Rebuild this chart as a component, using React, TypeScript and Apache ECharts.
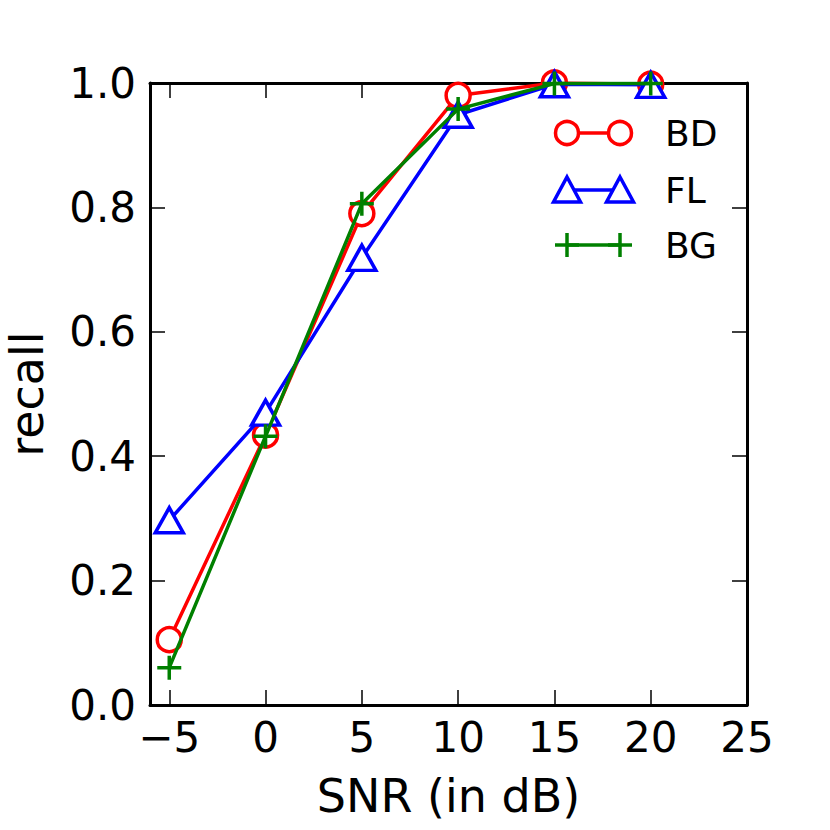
import React, { useEffect, useRef } from "react";
import * as echarts from "echarts";

const snr = [-5, 0, 5, 10, 15, 20];
const xTicks = [-5, 0, 5, 10, 15, 20, 25];
const bd = [0.105, 0.434, 0.79, 0.98, 1.0, 0.998];
const fl = [0.297, 0.47, 0.719, 0.949, 0.998, 0.997];
const bg = [0.06, 0.432, 0.806, 0.958, 0.999, 0.999];
const legendNames = ["BD", "FL", "BG"];

const FONT = "DejaVu Sans";
const RED = "#ff0000";
const BLUE = "#0000ff";
const GREEN = "#008000";

export default function App() {
  const ref = useRef<HTMLDivElement>(null);
  useEffect(() => {
    document.body.style.margin = "0";
    const chart = echarts.init(ref.current!, null, { renderer: "svg" });
    const fmtX = (v: number) => (v < 0 ? "\u2212" + Math.abs(v) : String(v));
    const pairs = (ys: number[]) => snr.map((x, i) => [x, ys[i]]);
    const axisLine = { show: true, onZero: false, lineStyle: { color: "#000", width: 3 } };
    const tick = { show: true, inside: true, length: 15, lineStyle: { color: "#000", width: 1.5 } };
    const plusPath = "path://M5,0 L5,10 M0,5 L10,5";

    const legX1 = 567, legX2 = 620, legText = 665;
    const rows = [133, 190, 245];
    const LW = 3.5;
    const tri = (cx: number, cy: number) => [
      [cx, cy - 13],
      [cx + 13.5, cy + 12],
      [cx - 13.5, cy + 12],
    ];
    const graphic: any[] = [
      { type: "line", shape: { x1: legX1, y1: rows[0], x2: legX2, y2: rows[0] }, style: { stroke: RED, lineWidth: LW } },
      { type: "circle", shape: { cx: legX1, cy: rows[0], r: 11.5 }, style: { fill: "#fff", stroke: RED, lineWidth: LW } },
      { type: "circle", shape: { cx: legX2, cy: rows[0], r: 11.5 }, style: { fill: "#fff", stroke: RED, lineWidth: LW } },
      { type: "line", shape: { x1: legX1, y1: rows[1], x2: legX2, y2: rows[1] }, style: { stroke: BLUE, lineWidth: LW } },
      { type: "polygon", shape: { points: tri(legX1, rows[1]) }, style: { fill: "#fff", stroke: BLUE, lineWidth: LW } },
      { type: "polygon", shape: { points: tri(legX2, rows[1]) }, style: { fill: "#fff", stroke: BLUE, lineWidth: LW } },
      { type: "line", shape: { x1: legX1, y1: rows[2], x2: legX2, y2: rows[2] }, style: { stroke: GREEN, lineWidth: LW } },
      { type: "line", shape: { x1: legX1, y1: rows[2] - 12, x2: legX1, y2: rows[2] + 12 }, style: { stroke: GREEN, lineWidth: LW } },
      { type: "line", shape: { x1: legX1 - 12, y1: rows[2], x2: legX1 + 12, y2: rows[2] }, style: { stroke: GREEN, lineWidth: LW } },
      { type: "line", shape: { x1: legX2, y1: rows[2] - 12, x2: legX2, y2: rows[2] + 12 }, style: { stroke: GREEN, lineWidth: LW } },
      { type: "line", shape: { x1: legX2 - 12, y1: rows[2], x2: legX2 + 12, y2: rows[2] }, style: { stroke: GREEN, lineWidth: LW } },
    ];
    legendNames.forEach((n, i) => {
      graphic.push({
        type: "text",
        x: legText,
        y: rows[i],
        style: { text: n, fontSize: 36, fontFamily: FONT, fill: "#000", verticalAlign: "middle", align: "left" },
      });
    });

    chart.setOption({
      animation: false,
      backgroundColor: "#fff",
      grid: { left: 150, top: 83, width: 597, height: 622, containLabel: false, outerBoundsMode: "none" },
      xAxis: [
        {
          type: "value",
          min: -6,
          max: 25,
          axisLine,
          axisTick: { ...tick, customValues: xTicks },
          axisLabel: {
            customValues: xTicks,
            formatter: fmtX,
            fontSize: 42,
            fontFamily: FONT,
            color: "#000",
            margin: 11,
          },
          splitLine: { show: false },
          name: "SNR (in dB)",
          nameLocation: "middle",
          nameGap: 68,
          nameTextStyle: { fontSize: 46, fontFamily: FONT, color: "#000" },
        },
        {
          type: "value",
          position: "top",
          min: -6,
          max: 25,
          axisLine,
          axisTick: { ...tick, customValues: xTicks },
          axisLabel: { show: false },
          splitLine: { show: false },
        },
      ],
      yAxis: [
        {
          type: "value",
          min: 0,
          max: 1,
          interval: 0.2,
          axisLine,
          axisTick: tick,
          axisLabel: {
            formatter: (v: number) => v.toFixed(1),
            fontSize: 42,
            fontFamily: FONT,
            color: "#000",
            margin: 14,
          },
          splitLine: { show: false },
          name: "recall",
          nameLocation: "middle",
          nameGap: 100,
          nameTextStyle: { fontSize: 46, fontFamily: FONT, color: "#000" },
        },
        {
          type: "value",
          position: "right",
          min: 0,
          max: 1,
          interval: 0.2,
          axisLine,
          axisTick: tick,
          axisLabel: { show: false },
          splitLine: { show: false },
        },
      ],
      series: [
        {
          name: legendNames[0],
          type: "line",
          z: 2,
          data: pairs(bd),
          symbol: "circle",
          symbolSize: 24,
          lineStyle: { color: RED, width: LW },
          itemStyle: { color: "#fff", borderColor: RED, borderWidth: LW },
        },
        {
          name: legendNames[1],
          type: "line",
          z: 3,
          data: pairs(fl),
          symbol: "triangle",
          symbolSize: [28, 25],
          lineStyle: { color: BLUE, width: LW },
          itemStyle: { color: "#fff", borderColor: BLUE, borderWidth: LW },
        },
        {
          name: legendNames[2],
          type: "line",
          z: 4,
          data: pairs(bg),
          symbol: plusPath,
          symbolSize: 24,
          lineStyle: { color: GREEN, width: LW },
          itemStyle: { color: GREEN, borderColor: GREEN, borderWidth: LW },
        },
      ],
      graphic,
    });
    return () => chart.dispose();
  }, []);
  return <div ref={ref} style={{ width: 830, height: 830 }} />;
}
